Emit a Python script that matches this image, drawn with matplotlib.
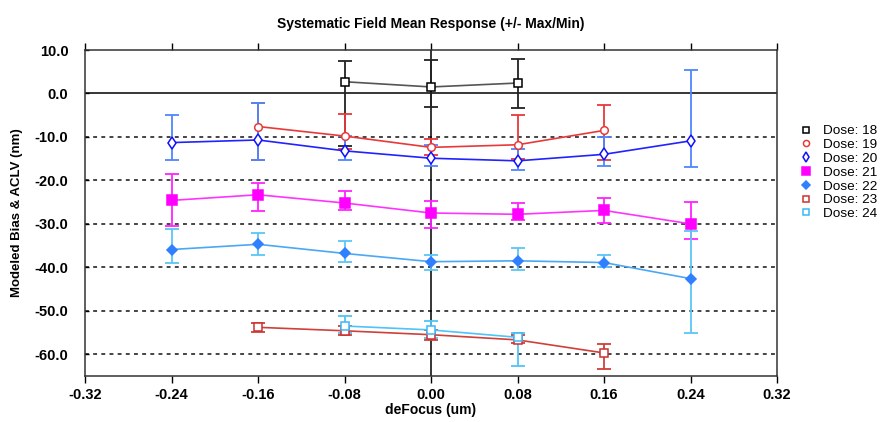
import numpy as np
import matplotlib.pyplot as plt

plt.rcParams['font.family'] = ['Liberation Sans', 'DejaVu Sans']

# defocus positions and per-dose mean response with max / min
x18 = [-0.08, 0.00, 0.08]
y18 = [2.7, 1.5, 2.4]
hi18 = [7.4, 7.8, 7.9]
lo18 = [-12.0, -3.1, -3.3]

x19 = [-0.16, -0.08, 0.00, 0.08, 0.16]
y19 = [-7.6, -9.8, -12.4, -11.8, -8.5]
hi19 = [-2.1, -4.8, -10.5, -5.0, -2.7]
lo19 = [-15.2, -12.8, -14.2, -15.0, -15.3]

x20 = [-0.24, -0.16, -0.08, 0.00, 0.08, 0.16, 0.24]
y20 = [-11.3, -10.7, -13.2, -14.9, -15.5, -14.0, -10.9]
hi20 = [-5.0, -2.1, -9.8, -11.9, -12.8, -10.1, 5.3]
lo20 = [-15.3, -15.2, -15.3, -16.6, -17.5, -16.6, -17.0]

x21 = [-0.24, -0.16, -0.08, 0.00, 0.08, 0.16, 0.24]
y21 = [-24.6, -23.3, -25.2, -27.5, -27.8, -26.9, -30.0]
hi21 = [-18.5, -20.6, -22.5, -24.8, -25.2, -24.0, -24.9]
lo21 = [-30.6, -27.1, -26.9, -30.9, -29.0, -29.7, -33.4]

x22 = [-0.24, -0.16, -0.08, 0.00, 0.08, 0.16, 0.24]
y22 = [-35.9, -34.7, -36.8, -38.7, -38.5, -38.9, -42.6]
hi22 = [-31.1, -32.0, -33.9, -37.1, -35.5, -37.1, -31.7]
lo22 = [-38.9, -37.1, -38.7, -40.5, -40.5, -39.9, -55.0]

x23 = [-0.16, -0.08, 0.00, 0.08, 0.16]
y23 = [-53.8, -54.6, -55.5, -56.7, -59.7]
hi23 = [-52.9, -53.6, -54.4, -55.5, -57.6]
lo23 = [-54.8, -55.5, -56.7, -57.4, -63.5]

x24 = [-0.08, 0.00, 0.08]
y24 = [-53.5, -54.4, -56.1]
hi24 = [-51.3, -52.3, -55.1]
lo24 = [-55.1, -56.2, -62.8]

labels = ['Dose: 18', 'Dose: 19', 'Dose: 20', 'Dose: 21', 'Dose: 22', 'Dose: 23', 'Dose: 24']
xticks = [-0.32, -0.24, -0.16, -0.08, 0.00, 0.08, 0.16, 0.24, 0.32]
yticks = [10, 0, -10, -20, -30, -40, -50, -60]

series = [(x18, y18, hi18, lo18), (x19, y19, hi19, lo19), (x20, y20, hi20, lo20),
          (x21, y21, hi21, lo21), (x22, y22, hi22, lo22), (x23, y23, hi23, lo23),
          (x24, y24, hi24, lo24)]

# line colour, error bar colour, marker, filled?
styles = [('#555555', '#222222', 's', False),
          ('#e8393a', '#e8393a', 'o', False),
          ('#2222ff', '#4f86ff', 'd', False),
          ('#ff33ff', '#ff22ff', 's', True),
          ('#4aa8f5', '#5cc6f7', 'D', True),
          ('#d0403a', '#d0403a', 's', False),
          ('#4ec4f8', '#4ec4f8', 's', False)]
mcols = ['#000000', '#e8393a', '#1010ff', '#ff00ff', '#2f7fff', '#cc3030', '#3bb8f5']
msizes = [6, 5.5, 6.5, 6.5, 5, 6, 6]

fig = plt.figure(figsize=(8.93, 4.22), dpi=100)
ax = fig.add_axes([0.0952, 0.109, 0.775, 0.7725])

for v in yticks:
    if v < 0:
        ax.axhline(v, color='#444444', lw=1.4, ls=(0, (2, 2.2)), zorder=1)
ax.axhline(0, color='black', lw=1.1, zorder=1)
ax.axvline(0, color='black', lw=1.1, zorder=1)

for (xs, ys, hi, lo), (lc, ec, mk, filled), mc, ms, lab in zip(series, styles, mcols, msizes, labels):
    ys = np.array(ys)
    err = [ys - np.array(lo), np.array(hi) - ys]
    ax.errorbar(xs, ys, yerr=err, fmt='none', ecolor=ec, elinewidth=1.3,
                capsize=5, capthick=1.3, zorder=2)
    ax.plot(xs, ys, '-', color=lc, lw=1.2, zorder=3, marker=mk, ms=ms,
            mec=mc, mew=1.1, mfc=mc if filled else 'white', label=lab)

ax.set_xlim(-0.32, 0.32)
ax.set_ylim(-65, 10)
ax.set_xticks(xticks)
ax.set_xticklabels(['%.2f' % t for t in xticks], fontweight='bold', fontsize=10.5)
ax.set_yticks(yticks)
ax.set_yticklabels(['%.1f' % t for t in yticks], fontweight='bold', fontsize=10.5)
ax.tick_params(axis='x', direction='out', length=5, top=True, width=1)
ax.tick_params(axis='y', direction='in', length=3, width=1, pad=12)
for s in ax.spines.values():
    s.set_color('#333333')
    s.set_linewidth(1.1)

ax.set_title('Systematic Field Mean Response (+/- Max/Min)', fontweight='bold', fontsize=10, pad=16)
ax.set_xlabel('deFocus (um)', fontweight='bold', fontsize=10, labelpad=1)
ax.set_ylabel('Modeled Bias & ACLV (nm)', fontweight='bold', fontsize=9.5, labelpad=8)

leg = ax.legend(loc='upper left', bbox_to_anchor=(1.035, 0.77), frameon=False, fontsize=9.7,
                labelspacing=0.1, handlelength=0.7, handletextpad=0.9, borderpad=0,
                borderaxespad=0, markerscale=0.8)
for h in leg.get_lines():
    h.set_linestyle('none')

plt.savefig('out.png', dpi=100)
